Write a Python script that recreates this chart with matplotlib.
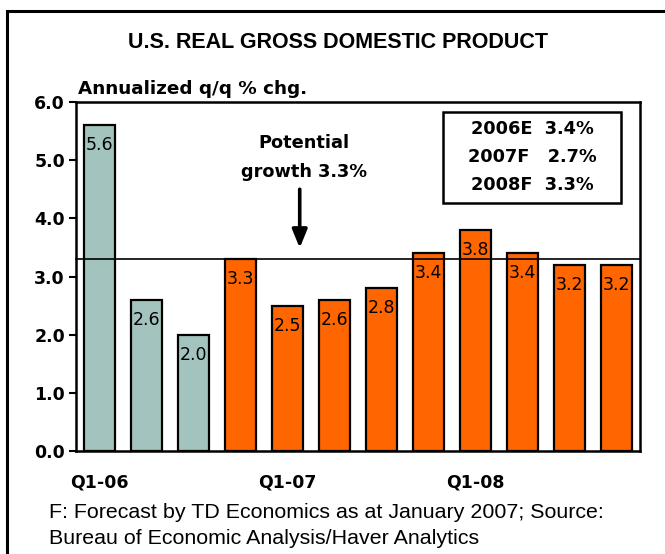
"""
U.S. real GDP, annualized q/q % change, with TD forecast (bars) and potential growth line
"""

import matplotlib
matplotlib.use('Agg')
import matplotlib.pyplot as plt
from matplotlib.patches import Rectangle

# Data
quarters = ['Q1-06', 'Q2-06', 'Q3-06', 'Q4-06',
            'Q1-07', 'Q2-07', 'Q3-07', 'Q4-07',
            'Q1-08', 'Q2-08', 'Q3-08', 'Q4-08']
gdp_growth = [5.6, 2.6, 2.0, 3.3, 2.5, 2.6, 2.8, 3.4, 3.8, 3.4, 3.2, 3.2]
is_forecast = [False, False, False, True, True, True, True, True,
               True, True, True, True]
potential_growth = 3.3
shown_ticks = ['Q1-06', 'Q1-07', 'Q1-08']
annual_lines = ['2006E  3.4%', '2007F   2.7%', '2008F  3.3%']
y_ticks = [0.0, 1.0, 2.0, 3.0, 4.0, 5.0, 6.0]

TEAL = '#a3c4be'
ORANGE = '#ff6600'
CHART_FONT = 'DejaVu Sans'
TEXT_FONT = 'Liberation Sans'


def main():
    fig = plt.figure(figsize=(6.65, 5.54), dpi=100)

    # outer frame (only top and left visible inside the image)
    fig.patches.append(Rectangle((7 / 665, -0.1), 1.2, 1 - 11 / 554 + 0.1,
                                 transform=fig.transFigure, fill=False,
                                 edgecolor='black', linewidth=2.2))

    ax = fig.add_axes([76 / 665, 1 - 451 / 554, (640 - 76) / 665,
                       (451 - 102) / 554])
    x = list(range(len(quarters)))
    colors = [ORANGE if f else TEAL for f in is_forecast]
    bars = ax.bar(x, gdp_growth, width=0.68, color=colors,
                  edgecolor='black', linewidth=1.6, zorder=2)
    for rect, val in zip(bars, gdp_growth):
        ax.annotate(f'{val:.1f}', (rect.get_x() + rect.get_width() / 2, val),
                    xytext=(0, -8), textcoords='offset points',
                    ha='center', va='top', fontsize=12.5, family=CHART_FONT,
                    zorder=3)

    ax.axhline(potential_growth, color='black', linewidth=1.2, zorder=4,
               clip_on=False)

    ax.set_xlim(-0.5, len(quarters) - 0.5)
    ax.set_ylim(0, 6)
    ax.set_yticks(y_ticks)
    ax.set_yticklabels([f'{t:.1f}' for t in y_ticks], fontsize=12.5,
                       fontweight='bold', family=CHART_FONT)
    ax.set_xticks([quarters.index(q) for q in shown_ticks])
    ax.set_xticklabels(shown_ticks, fontsize=12.5, fontweight='bold',
                       family=CHART_FONT)
    ax.tick_params(axis='x', length=0, pad=16)
    ax.tick_params(axis='y', length=5, width=1.5, direction='out', pad=3)
    for s in ax.spines.values():
        s.set_linewidth(1.8)

    ax.text(0.003, 1.012, 'Annualized q/q % chg.', transform=ax.transAxes,
            ha='left', va='bottom', fontsize=13.2, fontweight='bold',
            family=CHART_FONT)

    # potential growth annotation
    ax.text(4.35, 5.05, 'Potential\ngrowth 3.3%', ha='center',
            va='center', fontsize=12.8, fontweight='bold', family=CHART_FONT,
            linespacing=1.75)
    ax.annotate('', xy=(4.26, 3.49), xytext=(4.26, 4.5),
                arrowprops=dict(arrowstyle='-|>,head_width=0.45,head_length=1.1',
                                color='black', linewidth=2.6,
                                shrinkA=0, shrinkB=0))

    # annual averages box
    ax.add_patch(Rectangle((0.651, 0.711), 0.315, 0.26,
                           transform=ax.transAxes, facecolor='white',
                           edgecolor='black', linewidth=1.8, zorder=5))
    ax.text(0.809, 0.843, '\n'.join(annual_lines), transform=ax.transAxes,
            ha='center', va='center', fontsize=12.8, fontweight='bold',
            family=CHART_FONT, linespacing=1.7, zorder=6)

    fig.text(338 / 665, 1 - 43 / 554, 'U.S. REAL GROSS DOMESTIC PRODUCT',
             ha='center', va='center', fontsize=15.5, fontweight='bold',
             family=TEXT_FONT)
    fig.text(49 / 665, 1 - 503 / 554,
             'F: Forecast by TD Economics as at January 2007; Source:\n'
             'Bureau of Economic Analysis/Haver Analytics',
             ha='left', va='top', fontsize=15.4, family=TEXT_FONT,
             linespacing=1.45)

    fig.savefig('out.png', dpi=100)


if __name__ == '__main__':
    main()
